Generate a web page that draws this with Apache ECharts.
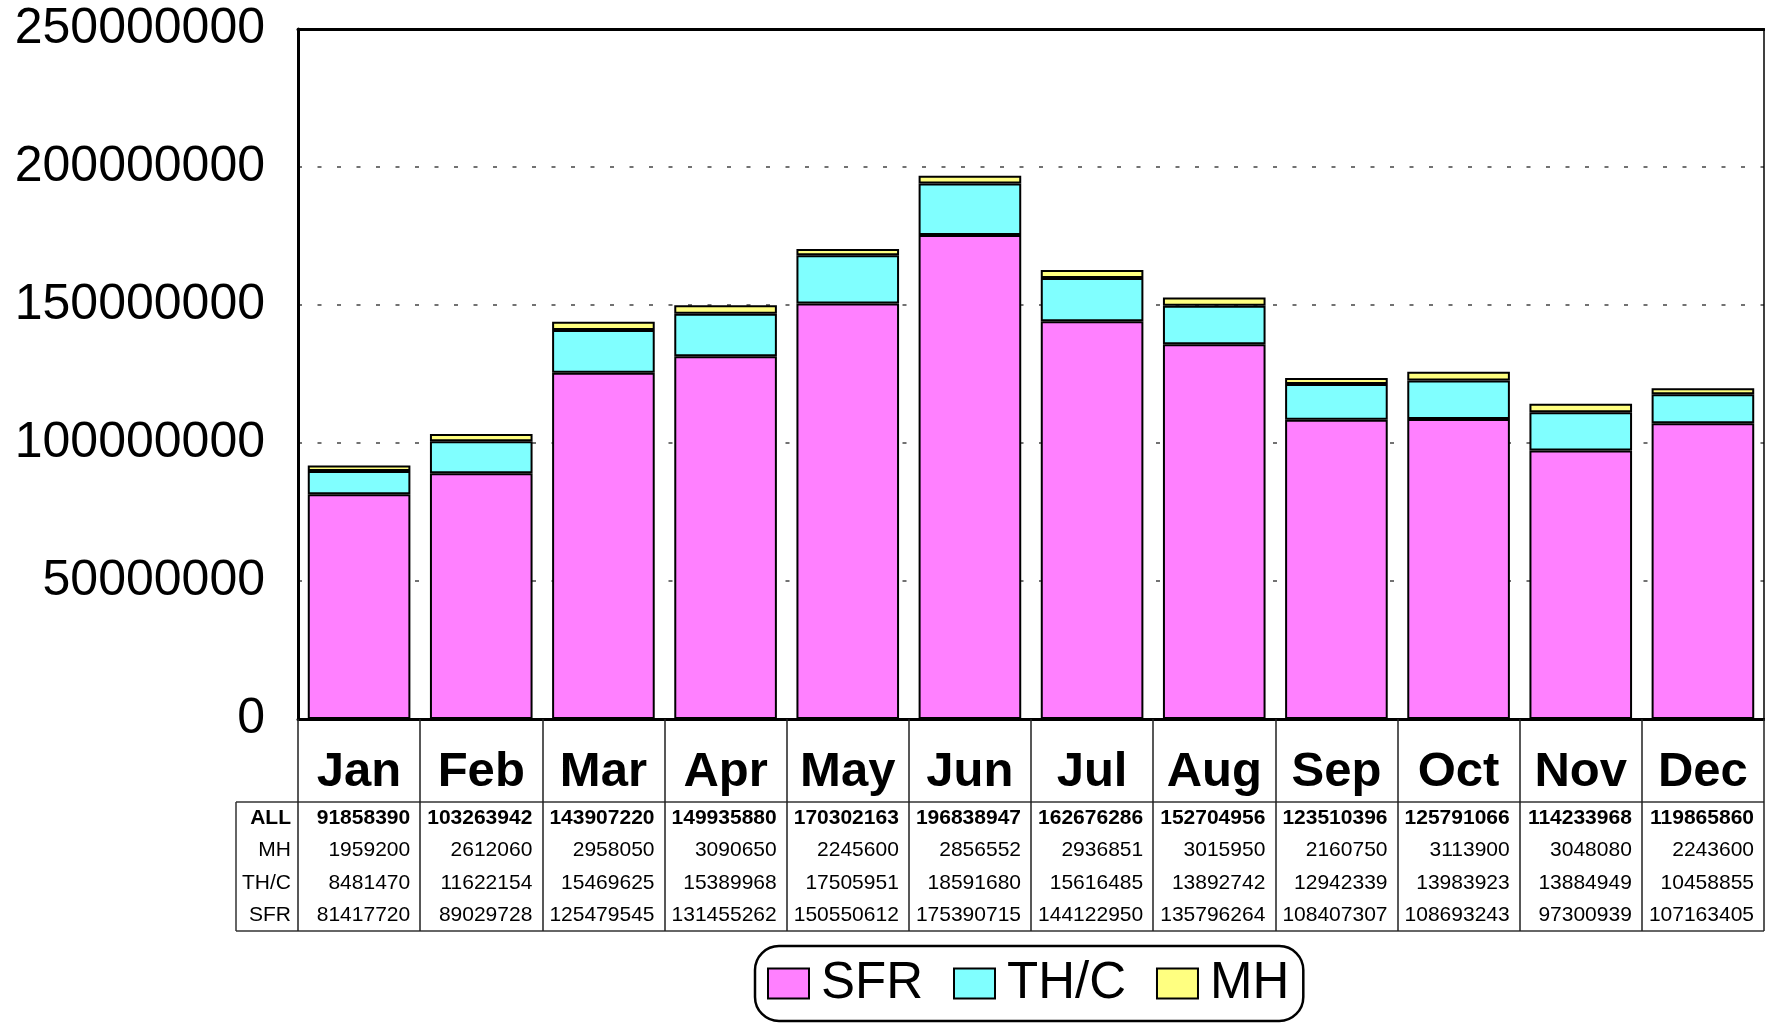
<!DOCTYPE html>
<html><head><meta charset="utf-8">
<script src="https://cdn.jsdelivr.net/npm/echarts@6/dist/echarts.min.js"></script>
<style>html,body{margin:0;padding:0;background:#fff}#c{width:1765px;height:1026px}</style>
</head><body><div id="c"></div>
<script>
const months = ['Jan','Feb','Mar','Apr','May','Jun','Jul','Aug','Sep','Oct','Nov','Dec'];
const allTotals = [91858390,103263942,143907220,149935880,170302163,196838947,162676286,152704956,123510396,125791066,114233968,119865860];
const mh  = [1959200,2612060,2958050,3090650,2245600,2856552,2936851,3015950,2160750,3113900,3048080,2243600];
const thc = [8481470,11622154,15469625,15389968,17505951,18591680,15616485,13892742,12942339,13983923,13884949,10458855];
const sfr = [81417720,89029728,125479545,131455262,150550612,175390715,144122950,135796264,108407307,108693243,97300939,107163405];
const rowLabels = ['ALL','MH','TH/C','SFR'];
const seriesNames = ['SFR','TH/C','MH'];
const yMin = 0, yMax = 250000000, yStep = 50000000;

const FONT = 'Liberation Sans, Arial, sans-serif';
const G = {left: 298, right: 1, top: 29, bottom: 307, containLabel: false, outerBoundsMode: 'none'};
const axisY = 1026 - G.bottom;           // 719
const plotRight = 1765 - G.right;        // 1764
const rowCenters = [818, 850, 883, 915];
const catW = (plotRight - G.left) / months.length;

function rowAxis(values, center, bold) {
  return {
    type: 'category', data: months, position: 'bottom', gridIndex: 0,
    offset: center - 11 - axisY,
    axisLine: {show: false}, axisTick: {show: false}, splitLine: {show: false},
    axisLabel: {
      interval: 0, margin: 0,
      formatter: (v, i) => '{v|' + values[i] + '}',
      rich: {v: {width: catW - 20, align: 'right', fontSize: 21, lineHeight: 22,
                 fontFamily: FONT, color: '#000', fontWeight: bold ? 'bold' : 'normal'}}
    }
  };
}

const chart = echarts.init(document.getElementById('c'), null, {renderer: 'canvas'});
const barStyle = c => ({color: c, borderColor: '#000', borderWidth: 2});
const colors = ['#ff80ff', '#80ffff', '#ffff80'];
const dataSets = [sfr, thc, mh];

const graphics = [
  {type: 'line', shape: {x1: 236, y1: 802, x2: plotRight, y2: 802}, style: {stroke: '#333', lineWidth: 1.5}},
  {type: 'line', shape: {x1: 236, y1: 931, x2: plotRight, y2: 931}, style: {stroke: '#333', lineWidth: 1.5}},
  {type: 'line', shape: {x1: 236, y1: 802, x2: 236, y2: 931}, style: {stroke: '#333', lineWidth: 1.5}}
];
rowLabels.forEach((t, i) => graphics.push({
  type: 'text', x: 291, y: rowCenters[i],
  style: {text: t, fontSize: 21, fontFamily: FONT, fontWeight: i === 0 ? 'bold' : 'normal',
          fill: '#000', align: 'right', verticalAlign: 'middle'}
}));

chart.setOption({
  animation: false,
  backgroundColor: '#fff',
  grid: G,
  legend: {
    data: seriesNames, selectedMode: false, icon: 'rect',
    left: 755, top: 946, orient: 'horizontal',
    padding: [12, 14, 12, 12],
    itemWidth: 41, itemHeight: 30, itemGap: 30,
    borderColor: '#000', borderWidth: 2.5, borderRadius: 24,
    itemStyle: {borderColor: '#000', borderWidth: 2},
    textStyle: {fontSize: 51, fontFamily: FONT, color: '#000', padding: [0, 0, 0, 7]}
  },
  xAxis: [
    {
      type: 'category', data: months, position: 'bottom', gridIndex: 0,
      axisLine: {lineStyle: {color: '#000', width: 3}},
      axisTick: {show: true, interval: 0, length: 212, lineStyle: {color: '#222', width: 1.5}},
      axisLabel: {interval: 0, margin: 29, fontSize: 49, fontWeight: 'bold', fontFamily: FONT, color: '#000'},
      splitLine: {show: false}
    },
    rowAxis(allTotals, rowCenters[0], true),
    rowAxis(mh, rowCenters[1], false),
    rowAxis(thc, rowCenters[2], false),
    rowAxis(sfr, rowCenters[3], false),
    {
      type: 'category', data: months, position: 'top', gridIndex: 0,
      axisLine: {lineStyle: {color: '#000', width: 3}}, axisTick: {show: false}, axisLabel: {show: false}
    }
  ],
  yAxis: [
    {
      type: 'value', min: yMin, max: yMax, interval: yStep,
      axisLine: {show: true, lineStyle: {color: '#000', width: 3}},
      axisTick: {show: false},
      axisLabel: {margin: 33, fontSize: 50, fontFamily: FONT, color: '#000', formatter: v => String(v)},
      splitLine: {show: true, lineStyle: {color: '#444', width: 1.5, type: [4, 15.5]}}
    },
    {
      type: 'value', position: 'right', min: 0, max: 1,
      axisLine: {show: true, lineStyle: {color: '#000', width: 1.5}},
      axisTick: {show: false}, axisLabel: {show: false}, splitLine: {show: false}
    }
  ],
  series: seriesNames.map((n, i) => ({
    name: n, type: 'bar', stack: 'total', data: dataSets[i],
    barCategoryGap: '16%', itemStyle: barStyle(colors[i])
  })),
  graphic: graphics
});
</script>
</body></html>
